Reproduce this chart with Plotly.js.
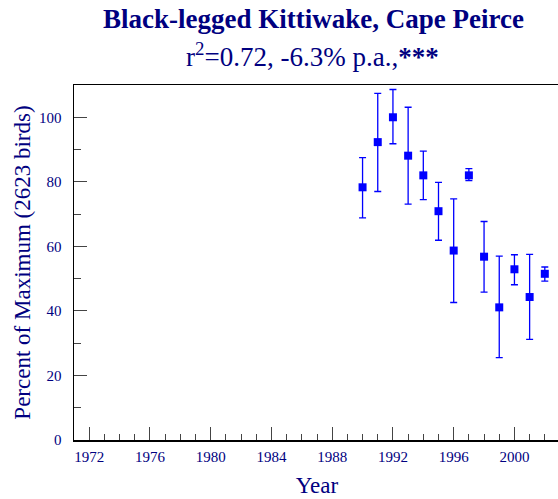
<!DOCTYPE html>
<html>
<head>
<meta charset="utf-8">
<script src="https://cdn.plot.ly/plotly-3.0.1.min.js"></script>
<style>
html, body { margin: 0; padding: 0; overflow: hidden; background: #fff; }
#chart { width: 561px; height: 499px; }
</style>
</head>
<body>
<div id="chart"></div>
<script>
var years = [1990, 1991, 1992, 1993, 1994, 1995, 1996, 1997, 1998, 1999, 2000, 2001, 2002];
var percentOfMax = [78.3, 92.3, 100.0, 88.1, 82.0, 70.9, 58.7, 82.0, 56.8, 41.1, 52.9, 44.3, 51.5];
var upperBound = [87.5, 107.4, 108.6, 103.1, 89.5, 79.8, 74.7, 84.1, 67.7, 57.0, 57.4, 57.5, 53.6];
var lowerBound = [68.8, 77.0, 91.8, 73.1, 74.5, 61.9, 42.6, 80.4, 45.8, 25.5, 48.1, 31.2, 49.2];

var titleLine1 = "Black-legged Kittiwake, Cape Peirce";
var titleLine2 = "r<sup>2</sup>=0.72, -6.3% p.a.,<b>***</b>";
var xTitle = "Year";
var yTitle = "Percent of Maximum (2623 birds)";

var errPlus = upperBound.map(function (u, i) { return u - percentOfMax[i]; });
var errMinus = lowerBound.map(function (l, i) { return percentOfMax[i] - l; });

var navy = "#000080";
var serif = "Liberation Serif, Times New Roman, serif";

var trace = {
  x: years,
  y: percentOfMax,
  type: "scatter",
  mode: "markers",
  marker: { symbol: "square", size: 8, color: "#0000ff", line: { width: 0 } },
  error_y: {
    type: "data",
    symmetric: false,
    array: errPlus,
    arrayminus: errMinus,
    color: "#0000ff",
    thickness: 1.3,
    width: 3.5
  },
  hoverinfo: "x+y"
};

var layout = {
  width: 561,
  height: 499,
  margin: { l: 74, r: 1, t: 85, b: 59, pad: 0 },
  paper_bgcolor: "#ffffff",
  plot_bgcolor: "#ffffff",
  showlegend: false,
  font: { family: serif, color: navy, size: 15 },
  xaxis: {
    range: [1971, 2003],
    showgrid: false,
    zeroline: false,
    showline: true,
    mirror: true,
    linecolor: "#000000",
    linewidth: 1.5,
    ticks: "inside",
    ticklen: 13,
    tickwidth: 1,
    tickcolor: "#444444",
    tick0: 1972,
    dtick: 4,
    tickfont: { family: serif, size: 15, color: navy },
    ticklabelstandoff: 2,
    minor: { ticks: "inside", ticklen: 6.5, tickwidth: 1, tickcolor: "#444444", dtick: 1, tick0: 1971, showgrid: false },
    title: { text: xTitle, font: { family: serif, size: 23, color: navy }, standoff: 13 }
  },
  yaxis: {
    range: [0, 110],
    showgrid: false,
    zeroline: false,
    showline: true,
    mirror: true,
    linecolor: "#000000",
    linewidth: 1.5,
    ticks: "inside",
    ticklen: 12.5,
    tickwidth: 1,
    tickcolor: "#444444",
    tick0: 0,
    dtick: 20,
    tickfont: { family: serif, size: 15, color: navy },
    ticklabelstandoff: 8,
    minor: { ticks: "inside", ticklen: 6.5, tickwidth: 1, tickcolor: "#444444", dtick: 10, tick0: 0, showgrid: false },
    title: { text: yTitle, font: { family: serif, size: 23, color: navy }, standoff: 2 }
  },
  annotations: [
    {
      text: "<b>" + titleLine1 + "</b>",
      xref: "paper", yref: "paper",
      x: (313.5 - 74) / 486, y: (440 - 19) / 355,
      xanchor: "center", yanchor: "middle",
      showarrow: false,
      font: { family: serif, size: 27, color: navy }
    },
    {
      text: titleLine2,
      xref: "paper", yref: "paper",
      x: (312.5 - 74) / 486, y: (440 - 55) / 355,
      xanchor: "center", yanchor: "middle",
      showarrow: false,
      font: { family: serif, size: 27, color: navy }
    }
  ]
};

Plotly.newPlot("chart", [trace], layout, { displayModeBar: false, staticPlot: true });
</script>
</body>
</html>
